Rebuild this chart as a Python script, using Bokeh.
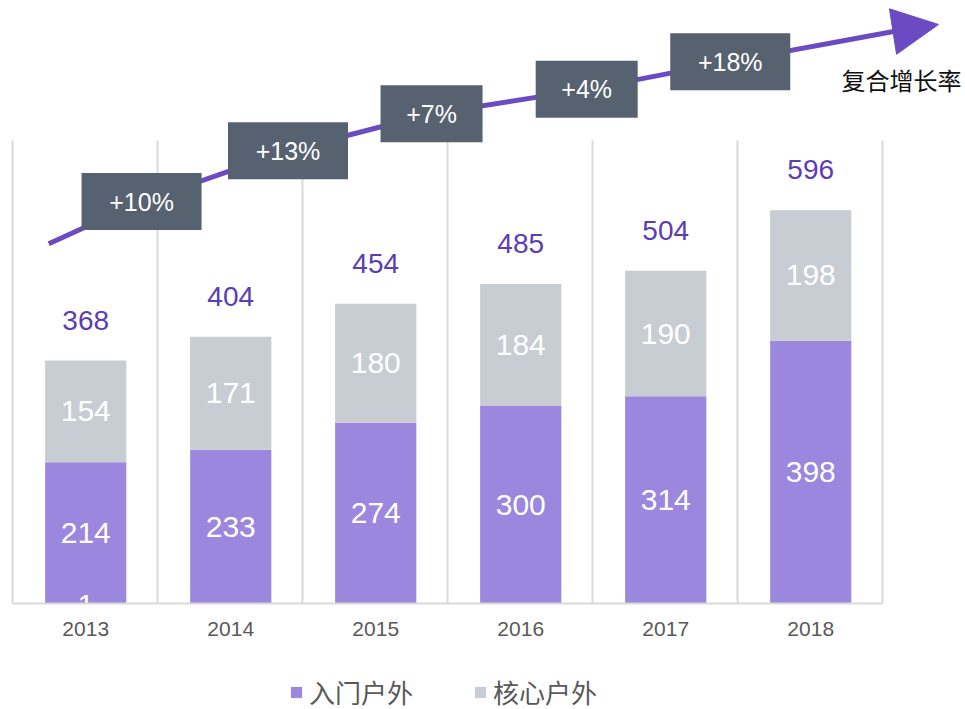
from bokeh.plotting import figure
from bokeh.models import (Range1d, LinearAxis, FixedTicker, Legend, LegendItem,
                          ColumnDataSource, Arrow, NormalHead)
from bokeh.core.properties import value
from bokeh.embed import file_html
from bokeh.resources import INLINE

# ---- data ----
years = ["2013", "2014", "2015", "2016", "2017", "2018"]
entry = [214, 233, 274, 300, 314, 398]      # 入门户外
core = [154, 171, 180, 184, 190, 198]       # 核心户外
totals = [368, 404, 454, 485, 504, 596]
growth = ["+10%", "+13%", "+7%", "+4%", "+18%"]
series_names = ["入门户外", "核心户外"]
stray_label = ["1"]

# ---- annotation layout (positions of the growth boxes, data coords) ----
growth_x = [0.89, 1.90, 2.89, 3.96, 4.95]
growth_y = [609, 686, 742, 779, 821]
arrow_start = (0.25, 545)
arrow_end = (6.076, 866.7)
arrow_tip = (6.386, 877.3)

PURPLE = "#9B87DE"
GRAY = "#C8CCD3"
DARK_PURPLE = "#5B3DB4"
LINE_PURPLE = "#6A4BC2"
BOX = "#566270"
TEXT_GRAY = "#595959"
NUM_FONT = value("Liberation Sans")
CJK_FONT = "Noto Sans CJK SC"

W, H = 965, 709
PX_X = 145.0     # pixels per category
PX_Y = 0.66      # pixels per unit
X0, Y0 = 12, 603  # pixel position of data origin

n = len(years)
xc = [i + 0.505 for i in range(n)]

p = figure(width=W, height=H, output_backend="svg", toolbar_location=None,
           x_range=Range1d(-X0 / PX_X, (W - X0) / PX_X),
           y_range=Range1d((Y0 - H) / PX_Y, Y0 / PX_Y),
           x_axis_type=None, y_axis_type=None,
           min_border_left=0, min_border_right=0, min_border_top=0,
           min_border_bottom=0)
p.outline_line_color = None
p.xgrid.visible = False
p.ygrid.visible = False
p.background_fill_color = "white"

# vertical category gridlines
bounds = list(range(n + 1))
p.segment(x0=bounds, y0=[0] * len(bounds), x1=bounds, y1=[701.5] * len(bounds),
          line_color="#D9D9D9", line_width=2)

src = ColumnDataSource(dict(x=xc, entry=entry, core=core, totals=totals,
                            top=[a + b for a, b in zip(entry, core)],
                            entry_mid=[a / 2 for a in entry],
                            core_mid=[a + b / 2 for a, b in zip(entry, core)],
                            entry_lbl=[str(v) for v in entry],
                            core_lbl=[str(v) for v in core],
                            tot_lbl=[str(v) for v in totals],
                            tot_y=[t + 61 for t in totals]))

r_entry = p.vbar(x="x", width=0.56, bottom=0, top="entry", source=src,
                 fill_color=PURPLE, line_color=None)
r_core = p.vbar(x="x", width=0.56, bottom="entry", top="top", source=src,
                fill_color=GRAY, line_color=None)

p.text(x="x", y="entry_mid", text="entry_lbl", source=src, text_align="center",
       text_baseline="middle", text_color="white", text_font_size="30px",
       text_font=NUM_FONT)
p.text(x="x", y="core_mid", text="core_lbl", source=src, text_align="center",
       text_baseline="middle", text_color="white", text_font_size="30px",
       text_font=NUM_FONT)
p.text(x="x", y="tot_y", text="tot_lbl", source=src, text_align="center",
       text_baseline="middle", text_color=DARK_PURPLE, text_font_size="28px",
       text_font=NUM_FONT)
# stray label at the foot of the first bar, cut by the baseline
p.text(x=[xc[0]], y=[-2], text=stray_label, text_align="center",
       text_baseline="middle", text_color="white", text_font_size="30px",
       text_font=NUM_FONT)
# white mask below the baseline (hides the lower part of the stray label)
p.quad(left=[-X0 / PX_X], right=[(W - X0) / PX_X], bottom=[(Y0 - H) / PX_Y],
       top=[0], fill_color="white", line_color=None)

# baseline
p.segment(x0=[0], y0=[0], x1=[n], y1=[0], line_color="#D9D9D9", line_width=2)

# growth arrow line through the boxes
line_x = [arrow_start[0]] + growth_x + [arrow_end[0]]
line_y = [arrow_start[1]] + growth_y + [arrow_end[1]]
p.line(line_x, line_y, line_color=LINE_PURPLE, line_width=5)
p.add_layout(Arrow(x_start=arrow_end[0], y_start=arrow_end[1],
                   x_end=arrow_tip[0], y_end=arrow_tip[1],
                   line_color=LINE_PURPLE, line_width=5,
                   end=NormalHead(size=46, fill_color=LINE_PURPLE,
                                  line_color=LINE_PURPLE)))

box_w = [18 * len(g) + 48 for g in growth]
p.rect(x=growth_x, y=growth_y, width=box_w, height=57, width_units="screen",
       height_units="screen", fill_color=BOX, line_color=None)
p.text(x=growth_x, y=growth_y, text=growth, text_align="center",
       text_baseline="middle", text_color="white", text_font_size="25px",
       text_font=NUM_FONT)

p.text(x=[(961 - X0) / PX_X], y=[(Y0 - 79) / PX_Y], text=["复合增长率"],
       text_align="right", text_baseline="middle", text_color="#111111",
       text_font_size="24px", text_font=value(CJK_FONT))

# year axis, drawn at the baseline
xa = LinearAxis(ticker=FixedTicker(ticks=xc), fixed_location=0,
                major_label_overrides={x: y for x, y in zip(xc, years)})
xa.axis_line_color = None
xa.major_tick_line_color = None
xa.minor_tick_line_color = None
xa.major_tick_out = 0
xa.major_label_standoff = 18
xa.major_label_text_font = "Liberation Sans"
xa.major_label_text_font_size = "21px"
xa.major_label_text_color = TEXT_GRAY
p.add_layout(xa, "below")

legend = Legend(items=[LegendItem(label=series_names[0], renderers=[r_entry]),
                       LegendItem(label=series_names[1], renderers=[r_core])],
                orientation="horizontal", location=(289, -1),
                glyph_width=14, glyph_height=14, label_standoff=6, spacing=60,
                padding=0, margin=0, border_line_color=None,
                background_fill_alpha=0,
                label_text_font=CJK_FONT, label_text_font_size="26px",
                label_text_color=TEXT_GRAY, label_height=28)
p.add_layout(legend)

open("out.html", "w").write(file_html(p, INLINE))
